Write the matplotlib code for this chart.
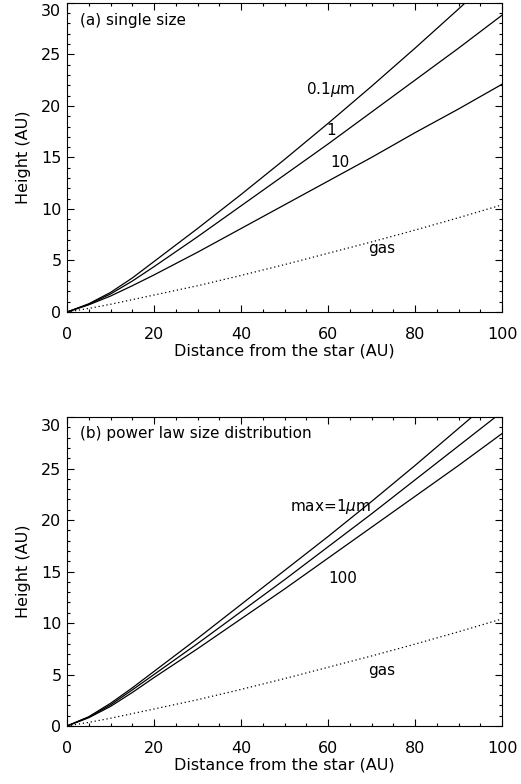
import numpy as np
import matplotlib
matplotlib.use('Agg')
import matplotlib.pyplot as plt
from matplotlib.ticker import MultipleLocator, FuncFormatter

plt.rcParams['font.family'] = ['DejaVu Sans']
plt.rcParams['mathtext.fontset'] = 'dejavusans'

# distance from the star (AU)
r = [0, 5, 10, 15, 20, 30, 40, 50, 60, 70, 80, 90, 100]

# (a) single grain size
h_01um = [0, 0.8, 1.9, 3.3, 4.9, 8.1, 11.4, 14.8, 18.3, 21.9, 25.6, 29.4, 33.3]
h_1um = [0, 0.75, 1.75, 3.0, 4.4, 7.3, 10.3, 13.3, 16.3, 19.4, 22.5, 25.6, 28.8]
h_10um = [0, 0.7, 1.55, 2.55, 3.6, 5.8, 8.1, 10.4, 12.7, 15.0, 17.4, 19.7, 22.1]

# (b) power law size distribution, max size 1, 10, 100 um
h_max1 = [0, 0.9, 2.2, 3.7, 5.3, 8.5, 11.8, 15.1, 18.4, 21.8, 25.3, 28.9, 32.5]
h_max10 = [0, 0.85, 2.05, 3.5, 5.0, 8.0, 11.1, 14.2, 17.4, 20.6, 23.9, 27.2, 30.5]
h_max100 = [0, 0.8, 1.9, 3.25, 4.7, 7.5, 10.4, 13.3, 16.3, 19.3, 22.3, 25.3, 28.4]

# gas scale height
h_gas = [0, 0.35, 0.75, 1.2, 1.65, 2.55, 3.55, 4.6, 5.7, 6.8, 7.95, 9.15, 10.4]

fig = plt.figure(figsize=(5.21, 7.84), dpi=100)
ax1 = fig.add_axes([0.1286, 0.602, 0.835, 0.3944])
ax2 = fig.add_axes([0.1286, 0.074, 0.835, 0.394])


def style(ax):
    ax.set_xlim(0, 100)
    ax.set_ylim(0, 30)
    ax.xaxis.set_major_locator(MultipleLocator(20))
    ax.xaxis.set_minor_locator(MultipleLocator(5))
    ax.yaxis.set_major_locator(MultipleLocator(5))
    ax.yaxis.set_minor_locator(MultipleLocator(1))
    # top label drawn by hand so it is not cut at the figure edge
    ax.yaxis.set_major_formatter(FuncFormatter(lambda v, p: '' if v >= 30 else '%d' % v))
    ax.tick_params(which='both', direction='in', top=True, right=True,
                   width=0.8, labelsize=11.5)
    ax.tick_params(which='major', length=5)
    ax.tick_params(which='minor', length=2.5)
    ax.tick_params(axis='x', pad=11)
    ax.tick_params(axis='y', pad=4)
    for s in ax.spines.values():
        s.set_linewidth(0.8)
    ax.text(-0.013, 0.995, '30', transform=ax.transAxes, ha='right', va='top',
            fontsize=11.5)
    ax.set_xlabel('Distance from the star (AU)', fontsize=11.5, labelpad=1)
    ax.set_ylabel('Height (AU)', fontsize=11.5, labelpad=7)


lw = 0.9
dots = (0, (1, 2.2))
fs = 11

ax1.plot(r, h_01um, color='black', lw=lw)
ax1.plot(r, h_1um, color='black', lw=lw)
ax1.plot(r, h_10um, color='black', lw=lw)
ax1.plot(r, h_gas, color='black', lw=lw, linestyle=dots)
style(ax1)
ax1.text(3, 28.3, '(a) single size', fontsize=fs, va='center')
ax1.text(60.6, 21.6, r'0.1$\mu$m', fontsize=fs, ha='center', va='center')
ax1.text(60.6, 17.6, '1', fontsize=fs, ha='center', va='center')
ax1.text(62.7, 14.5, '10', fontsize=fs, ha='center', va='center')
ax1.text(72.4, 6.2, 'gas', fontsize=fs, ha='center', va='center')

ax2.plot(r, h_max1, color='black', lw=lw)
ax2.plot(r, h_max10, color='black', lw=lw)
ax2.plot(r, h_max100, color='black', lw=lw)
ax2.plot(r, h_gas, color='black', lw=lw, linestyle=dots)
style(ax2)
ax2.text(3, 28.4, '(b) power law size distribution', fontsize=fs, va='center')
ax2.text(60.6, 21.3, r'max=1$\mu$m', fontsize=fs, ha='center', va='center')
ax2.text(63.4, 14.35, '100', fontsize=fs, ha='center', va='center')
ax2.text(72.4, 5.4, 'gas', fontsize=fs, ha='center', va='center')

fig.savefig('out.png', dpi=100)
